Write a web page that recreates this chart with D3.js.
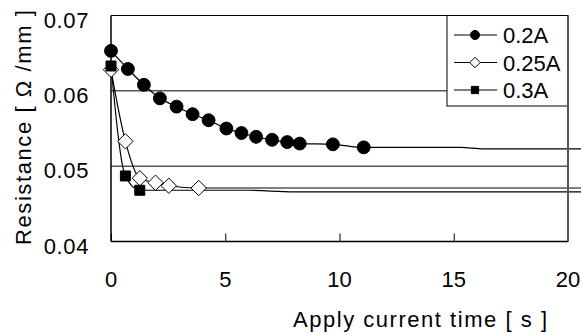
<!DOCTYPE html>
<html>
<head>
<meta charset="utf-8">
<script src="https://cdn.jsdelivr.net/npm/d3@7.9.0/dist/d3.min.js"></script>
<style>
  html, body { margin: 0; padding: 0; background: #fff; }
  svg { display: block; font-family: "Liberation Sans", Arial, sans-serif; }
</style>
</head>
<body>
<svg id="chart" width="581" height="334"></svg>
<script>
// values
const seriesNames = ['0.2A', '0.25A', '0.3A'];

const time02 = [0, 0.74, 1.44, 2.14, 2.87, 3.57, 4.27, 5.05, 5.71, 6.35, 7.05, 7.71, 8.26, 9.71, 11.06];
const res02 = [0.0653, 0.0629, 0.0608, 0.0590, 0.0579, 0.0569, 0.0561, 0.0550, 0.0544, 0.0539, 0.0535, 0.0532, 0.0530, 0.0529, 0.0525];
const tailTime02 = [15.3, 16.3, 21];
const tailRes02 = [0.0525, 0.0523, 0.0523];

const time025 = [0, 0.63, 1.26, 1.95, 2.53, 3.84];
const res025 = [0.0628, 0.0533, 0.0484, 0.0478, 0.0474, 0.0471];
const tailTime025 = [21];
const tailRes025 = [0.0471];

const time03 = [0, 0.63, 1.26];
const res03 = [0.0633, 0.0487, 0.0468];
const tailTime03 = [6, 8, 21];
const tailRes03 = [0.0468, 0.0466, 0.0466];

const xTicks = [0, 5, 10, 15, 20];
const yTicks = [0.04, 0.05, 0.06, 0.07];

const zip = (t, v) => t.map((d, i) => ({ t: d, v: v[i] }));
const series = [
  { name: seriesNames[0], marker: 'circle', pts: zip(time02, res02), tail: zip(tailTime02, tailRes02) },
  { name: seriesNames[1], marker: 'diamond', pts: zip(time025, res025), tail: zip(tailTime025, tailRes025) },
  { name: seriesNames[2], marker: 'square', pts: zip(time03, res03), tail: zip(tailTime03, tailRes03) }
];

const svg = d3.select('#chart');
const plot = { left: 111, right: 568, top: 15.5, bottom: 241.5 };

const x = d3.scaleLinear().domain([0, 20]).range([plot.left, plot.right]);
const y = d3.scaleLinear().domain([0.04, 0.07]).range([plot.bottom, plot.top]);

// gridlines
svg.append('g')
  .selectAll('line')
  .data([0.05, 0.06])
  .join('line')
  .attr('x1', plot.left).attr('x2', plot.right)
  .attr('y1', d => y(d)).attr('y2', d => y(d))
  .attr('stroke', '#000').attr('stroke-width', 1);

// frame
svg.append('line').attr('x1', plot.left).attr('x2', plot.right).attr('y1', plot.top).attr('y2', plot.top)
  .attr('stroke', '#000').attr('stroke-width', 1.2);

// x axis, ticks pointing inward
const xAxis = svg.append('g')
  .attr('transform', `translate(0,${plot.bottom})`)
  .call(d3.axisBottom(x).tickValues(xTicks).tickSize(-8).tickPadding(0).tickFormat(''));
xAxis.select('.domain').attr('stroke-width', 1.5).attr('d', `M${plot.left},0H${plot.right}`);
xAxis.selectAll('.tick line').attr('stroke-width', 1);

svg.append('g')
  .selectAll('text')
  .data(xTicks)
  .join('text')
  .attr('x', d => x(d))
  .attr('y', 286.5)
  .attr('text-anchor', 'middle')
  .attr('font-size', 22)
  .text(d => d);

// y axis
svg.append('line').attr('x1', plot.left).attr('x2', plot.left).attr('y1', plot.top).attr('y2', plot.bottom)
  .attr('stroke', '#000').attr('stroke-width', 1.5);

svg.append('g')
  .selectAll('text')
  .data(yTicks)
  .join('text')
  .attr('x', 89)
  .attr('y', d => y(d) + 12)
  .attr('text-anchor', 'end')
  .attr('font-size', 22)
  .attr('letter-spacing', 0.6)
  .text(d => d.toFixed(2));

// lines (smoothed)
const line = d3.line()
  .x(d => x(d.t))
  .y(d => y(d.v))
  .curve(d3.curveMonotoneX);

const markerPath = {
  circle: d3.symbol(d3.symbolCircle, 130),
  diamond: d3.symbol(d3.symbolDiamond2, 150),
  square: d3.symbol(d3.symbolSquare, 100)
};
const markerFill = { circle: '#000', diamond: '#fff', square: '#000' };

series.forEach(s => {
  svg.append('path')
    .attr('d', line(s.pts.concat(s.tail)))
    .attr('fill', 'none')
    .attr('stroke', '#000')
    .attr('stroke-width', 1.2);
});

series.forEach(s => {
  svg.append('g')
    .selectAll('path')
    .data(s.pts)
    .join('path')
    .attr('transform', d => `translate(${x(d.t)},${y(d.v)})`)
    .attr('d', markerPath[s.marker])
    .attr('fill', markerFill[s.marker])
    .attr('stroke', '#000')
    .attr('stroke-width', 1);
});

// legend
const legend = svg.append('g');
legend.append('rect')
  .attr('x', 447).attr('y', 15.5).attr('width', 121).attr('height', 90.5)
  .attr('fill', '#fff').attr('stroke', '#000').attr('stroke-width', 1);

const legendMarker = {
  circle: d3.symbol(d3.symbolCircle, 64),
  diamond: d3.symbol(d3.symbolDiamond2, 70),
  square: d3.symbol(d3.symbolSquare, 52)
};

series.forEach((s, i) => {
  const cy = 35 + i * 27.5;
  const row = legend.append('g');
  row.append('line').attr('x1', 454).attr('x2', 497).attr('y1', cy).attr('y2', cy)
    .attr('stroke', '#000').attr('stroke-width', 1);
  row.append('path')
    .attr('transform', `translate(475,${cy})`)
    .attr('d', legendMarker[s.marker])
    .attr('fill', markerFill[s.marker])
    .attr('stroke', '#000').attr('stroke-width', 1);
  row.append('text')
    .attr('x', 503).attr('y', cy + 8)
    .attr('font-size', 22)
    .text(s.name);
});

// right border (grey)
svg.append('line').attr('x1', plot.right).attr('x2', plot.right).attr('y1', plot.top).attr('y2', plot.bottom)
  .attr('stroke', '#555').attr('stroke-width', 2);

// axis titles
svg.append('text')
  .attr('x', 293).attr('y', 327)
  .attr('font-size', 22)
  .attr('textLength', 254).attr('lengthAdjust', 'spacing')
  .text('Apply current time [ s ]');

svg.append('text')
  .attr('transform', 'translate(31,245) rotate(-90)')
  .attr('font-size', 22)
  .attr('textLength', 235).attr('lengthAdjust', 'spacing')
  .text('Resistance [ Ω /mm ]');
</script>
</body>
</html>
